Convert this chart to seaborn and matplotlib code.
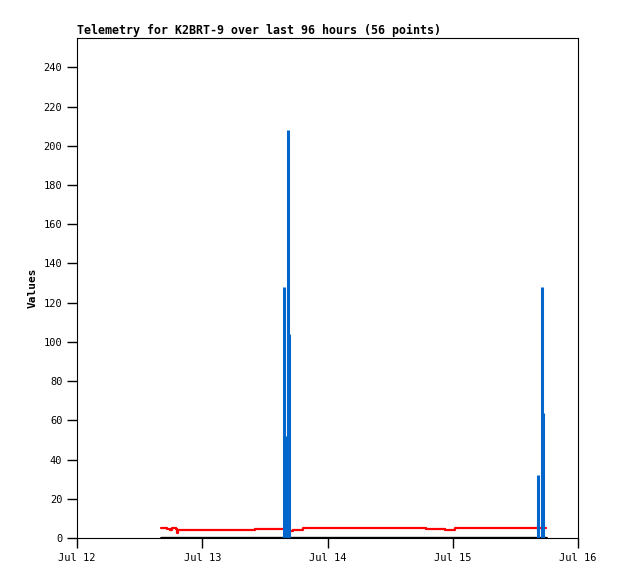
#!/usr/bin/env python

"""
Telemetry plot for K2BRT-9, last 96 hours
"""

import pandas as pd
import numpy as np
import matplotlib
matplotlib.use("Agg")
import matplotlib.pyplot as plt
import matplotlib.dates as mdates
import seaborn as sns

start = pd.Timestamp("2025-07-12 00:00")

# red series: step changes (hours after start, value)
red_hours = [16.1, 17.2, 17.8, 18.2, 19.0, 19.2, 19.4, 24.5, 34.1, 39.5,
             40.8, 41.4, 43.3, 66.9, 70.5, 72.4, 89.9]
red_values = [4.9, 4.6, 4.3, 4.9, 4.6, 2.5, 4.1, 4.3, 4.8, 4.8,
              3.8, 4.3, 4.9, 4.4, 3.9, 4.9, 4.9]

# black series sits at zero over the same span
black_hours = [16.1, 89.9]
black_values = [0, 0]

# blue spikes
blue_hours = [39.7, 40.2, 40.45, 40.65, 88.3, 89.1, 89.35]
blue_values = [128, 52, 208, 104, 32, 128, 64]

title = "Telemetry for K2BRT-9 over last 96 hours (56 points)"


def to_times(hours):
    return [start + pd.Timedelta(hours=h) for h in hours]


sns.set_style("ticks")
plt.rcParams["font.family"] = ["DejaVu Sans Mono"]
plt.rcParams["text.color"] = "black"
plt.rcParams["axes.labelcolor"] = "black"

fig = plt.figure(figsize=(6.18, 5.79), dpi=100)
ax = fig.add_axes([77 / 618, 1 - 538 / 579, 501 / 618, 500 / 579])

red_df = pd.DataFrame({"t": to_times(red_hours), "v": red_values})
black_df = pd.DataFrame({"t": to_times(black_hours), "v": black_values})

sns.lineplot(data=black_df, x="t", y="v", color="black", linewidth=2.4, ax=ax)
sns.lineplot(data=red_df, x="t", y="v", color="#ff0000", linewidth=1.6,
             drawstyle="steps-post", ax=ax)
ax.vlines(to_times(blue_hours), 0, blue_values, color="#0066cc", linewidth=2.2)

ax.set_xlim(start, start + pd.Timedelta(hours=96))
ax.set_ylim(0, 255)
ax.set_yticks(range(0, 241, 20))
ax.xaxis.set_major_locator(mdates.DayLocator())
ax.xaxis.set_major_formatter(mdates.DateFormatter("%b %d"))

ax.tick_params(axis="both", direction="out", length=7, width=1,
               labelsize=7.5, color="black", labelcolor="black")
for s in ax.spines.values():
    s.set_linewidth(0.8)
    s.set_color("black")

ax.set_xlabel("")
ax.set_ylabel("Values", fontsize=8, fontweight="bold", labelpad=4)
ax.set_title(title, loc="left", fontsize=8.4, fontweight="bold", pad=3)

fig.savefig("out.png", dpi=100)
